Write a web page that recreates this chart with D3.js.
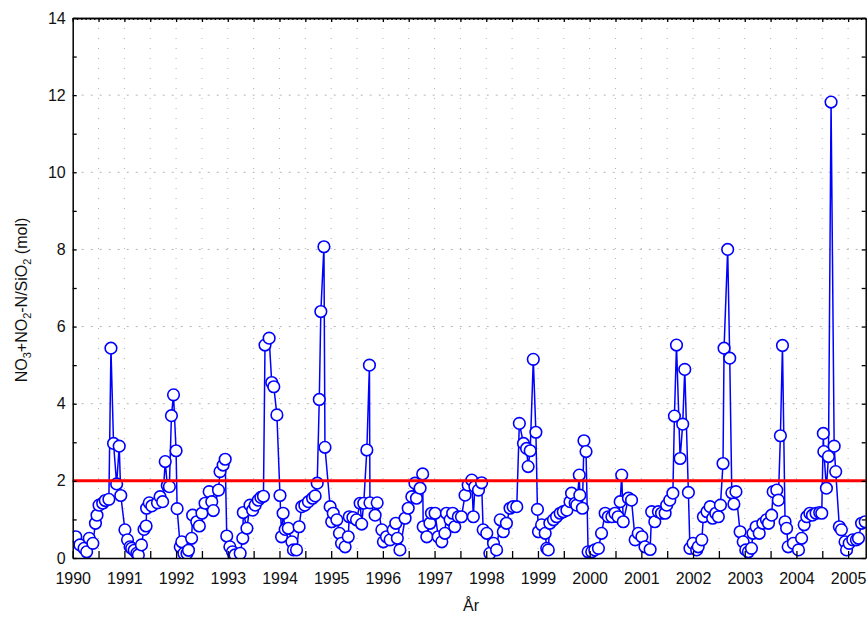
<!DOCTYPE html>
<html>
<head>
<meta charset="utf-8">
<script src="https://cdn.jsdelivr.net/npm/d3@7"></script>
<style>
  body { margin: 0; background: #fff; }
  svg { display: block; font-family: "Liberation Sans", Arial, sans-serif; }
</style>
</head>
<body>
<div id="chart"></div>
<script>
const width = 867;
const height = 617;

// sample dates (decimal year) and NO3+NO2-N/SiO2 ratio
const sampleDates = [
    1990.06, 1990.14, 1990.22, 1990.27, 1990.32, 1990.39, 1990.44, 1990.47, 1990.51, 1990.58, 1990.63, 1990.70, 1990.74, 1990.79, 1990.85, 1990.90, 1990.93,
    1991.01, 1991.06, 1991.11, 1991.14, 1991.19, 1991.24, 1991.27, 1991.33, 1991.38, 1991.42, 1991.43, 1991.48, 1991.53, 1991.64, 1991.69, 1991.74, 1991.79, 1991.83, 1991.87, 1991.91, 1991.95,
    1992.00, 1992.02, 1992.08, 1992.11, 1992.15, 1992.21, 1992.24, 1992.30, 1992.32, 1992.40, 1992.45, 1992.50, 1992.56, 1992.64, 1992.69, 1992.72, 1992.82, 1992.85, 1992.91, 1992.95, 1992.98,
    1993.04, 1993.09, 1993.14, 1993.24, 1993.29, 1993.30, 1993.37, 1993.43, 1993.48, 1993.53, 1993.59, 1993.64, 1993.69, 1993.72, 1993.80, 1993.85, 1993.89, 1993.95,
    1994.01, 1994.04, 1994.07, 1994.11, 1994.17, 1994.24, 1994.27, 1994.33, 1994.38, 1994.43, 1994.49, 1994.56, 1994.64, 1994.69, 1994.73, 1994.77, 1994.80, 1994.86, 1994.88, 1994.98,
    1995.01, 1995.04, 1995.11, 1995.16, 1995.20, 1995.27, 1995.33, 1995.35, 1995.42, 1995.49, 1995.56, 1995.59, 1995.63, 1995.69, 1995.74, 1995.75, 1995.85, 1995.89, 1995.98,
    1996.01, 1996.07, 1996.14, 1996.20, 1996.25, 1996.28, 1996.33, 1996.43, 1996.49, 1996.56, 1996.62, 1996.65, 1996.72, 1996.77, 1996.78, 1996.85, 1996.91, 1996.94,
    1997.01, 1997.07, 1997.14, 1997.20, 1997.23, 1997.30, 1997.35, 1997.39, 1997.46, 1997.52, 1997.59, 1997.65, 1997.72, 1997.75, 1997.78, 1997.85, 1997.91, 1997.94,
    1998.01, 1998.07, 1998.14, 1998.20, 1998.27, 1998.33, 1998.39, 1998.46, 1998.52, 1998.59, 1998.64, 1998.72, 1998.78, 1998.81, 1998.85, 1998.91, 1998.96, 1998.99,
    1999.01, 1999.07, 1999.14, 1999.17, 1999.20, 1999.23, 1999.30, 1999.36, 1999.43, 1999.49, 1999.56, 1999.62, 1999.65, 1999.72, 1999.75, 1999.80, 1999.81, 1999.86, 1999.89, 1999.93, 1999.97,
    2000.04, 2000.10, 2000.17, 2000.23, 2000.30, 2000.36, 2000.43, 2000.49, 2000.55, 2000.59, 2000.62, 2000.65, 2000.75, 2000.81, 2000.88, 2000.94,
    2001.01, 2001.07, 2001.17, 2001.20, 2001.26, 2001.33, 2001.39, 2001.46, 2001.49, 2001.55, 2001.61, 2001.64, 2001.68, 2001.75, 2001.80, 2001.84, 2001.91, 2001.94,
    2002.00, 2002.07, 2002.10, 2002.17, 2002.20, 2002.27, 2002.33, 2002.38, 2002.44, 2002.49, 2002.53, 2002.58, 2002.60, 2002.67, 2002.71, 2002.75, 2002.79, 2002.83, 2002.91, 2002.97,
    2003.02, 2003.07, 2003.13, 2003.16, 2003.22, 2003.28, 2003.35, 2003.42, 2003.46, 2003.52, 2003.55, 2003.62, 2003.65, 2003.69, 2003.73, 2003.78, 2003.81, 2003.84, 2003.94,
    2004.04, 2004.10, 2004.15, 2004.20, 2004.26, 2004.31, 2004.38, 2004.45, 2004.49, 2004.52, 2004.53, 2004.58, 2004.62, 2004.67, 2004.73, 2004.76, 2004.83, 2004.87, 2004.94, 2004.97,
    2005.02, 2005.09, 2005.16, 2005.20, 2005.26, 2005.33
];

const ratios = [
    0.55, 0.34, 0.25, 0.16, 0.51, 0.38, 0.90, 1.11, 1.37, 1.42, 1.49, 1.52, 5.44, 2.97, 1.92, 2.90, 1.62,
    0.73, 0.47, 0.29, 0.25, 0.20, 0.12, 0.08, 0.34, 0.74, 0.83, 1.29, 1.43, 1.35, 1.43, 1.59, 1.46, 2.50, 1.88, 1.85, 3.69, 4.23,
    2.78, 1.28, 0.29, 0.42, 0.12, 0.12, 0.20, 0.51, 1.11, 0.94, 0.83, 1.16, 1.42, 1.72, 1.46, 1.23, 1.76, 2.24, 2.41, 2.56, 0.57,
    0.29, 0.16, 0.08, 0.12, 0.51, 1.18, 0.77, 1.37, 1.24, 1.37, 1.50, 1.57, 1.60, 5.52, 5.70, 4.55, 4.44, 3.71,
    1.62, 0.55, 1.16, 0.74, 0.77, 0.42, 0.21, 0.21, 0.81, 1.33, 1.37, 1.46, 1.55, 1.61, 1.94, 4.11, 6.39, 8.07, 2.87, 1.33,
    0.94, 1.16, 0.99, 0.64, 0.38, 0.29, 0.55, 1.07, 1.05, 0.99, 1.42, 0.88, 1.42, 2.80, 5.00, 1.43, 1.11, 1.43, 0.73,
    0.42, 0.55, 0.47, 0.73, 0.90, 0.51, 0.21, 1.03, 1.29, 1.59, 1.94, 1.55, 1.81, 2.18, 0.81, 0.55, 0.90, 1.16,
    1.16, 0.55, 0.42, 0.64, 1.16, 0.99, 1.16, 0.81, 1.07, 1.07, 1.63, 1.89, 2.02, 1.07, 1.85, 1.76, 1.95, 0.73,
    0.64, 0.12, 0.38, 0.21, 0.99, 0.68, 0.90, 1.29, 1.33, 1.33, 3.49, 2.97, 2.84, 2.37, 2.78, 5.15, 3.26, 1.26,
    0.68, 0.86, 0.64, 0.25, 0.21, 0.90, 0.99, 1.07, 1.16, 1.20, 1.24, 1.46, 1.68, 1.42, 1.37, 2.15, 1.63, 1.29, 3.04, 2.76, 0.16,
    0.16, 0.21, 0.25, 0.64, 1.16, 1.07, 1.07, 1.16, 1.07, 1.46, 2.15, 0.94, 1.55, 1.50, 0.47, 0.64,
    0.55, 0.29, 0.22, 1.20, 0.94, 1.20, 1.16, 1.16, 1.37, 1.50, 1.68, 3.68, 5.52, 2.58, 3.47, 4.89, 1.70, 0.25,
    0.38, 0.21, 0.29, 0.47, 1.07, 1.20, 1.33, 1.03, 1.16, 1.07, 1.37, 2.45, 5.44, 8.00, 5.18, 1.69, 1.40, 1.72, 0.68, 0.42,
    0.21, 0.16, 0.25, 0.64, 0.81, 0.64, 0.90, 0.99, 0.90, 1.11, 1.72, 1.76, 1.50, 3.17, 5.51, 0.94, 0.77, 0.29, 0.38,
    0.21, 0.51, 0.86, 1.07, 1.16, 1.11, 1.16, 1.18, 1.16, 3.23, 2.76, 1.81, 2.63, 11.82, 2.90, 2.24, 0.81, 0.73, 0.42, 0.21,
    0.38, 0.47, 0.47, 0.51, 0.90, 0.94
];

const yearLabels = d3.range(1990, 2006);
const threshold = 2;

const plot = { left: 72.7, right: 865.7, top: 18, bottom: 558 };

const x = d3.scaleLinear().domain([1990, 2005.34]).range([plot.left, plot.right]);
const y = d3.scaleLinear().domain([0, 14]).range([plot.bottom, plot.top]);

const samples = sampleDates.map((d, i) => ({ date: d, value: ratios[i] }));

const svg = d3.select("#chart")
    .append("svg")
    .attr("width", width)
    .attr("height", height);

svg.append("defs").append("clipPath")
    .attr("id", "plot-clip")
    .append("rect")
    .attr("x", plot.left)
    .attr("y", plot.top)
    .attr("width", plot.right - plot.left)
    .attr("height", plot.bottom - plot.top);

// dotted grid
const halfYears = d3.range(1990, 2005.4, 0.5);
svg.append("g")
    .selectAll("line")
    .data(halfYears.filter(d => d > 1990))
    .join("line")
    .attr("x1", d => x(d)).attr("x2", d => x(d))
    .attr("y1", plot.top).attr("y2", plot.bottom)
    .attr("stroke", "#b4b4b4")
    .attr("stroke-width", 1)
    .attr("stroke-dasharray", "1,9");

svg.append("g")
    .selectAll("line")
    .data(d3.range(2, 14, 2))
    .join("line")
    .attr("x1", plot.left).attr("x2", plot.right)
    .attr("y1", d => y(d)).attr("y2", d => y(d))
    .attr("stroke", "#b4b4b4")
    .attr("stroke-width", 1)
    .attr("stroke-dasharray", "2,7");

// series
const series = svg.append("g").attr("clip-path", "url(#plot-clip)");

series.append("path")
    .datum(samples)
    .attr("fill", "none")
    .attr("stroke", "#0000ff")
    .attr("stroke-width", 1.5)
    .attr("d", d3.line().x(d => x(d.date)).y(d => y(d.value)));

series.selectAll("circle")
    .data(samples)
    .join("circle")
    .attr("cx", d => x(d.date))
    .attr("cy", d => y(d.value))
    .attr("r", 5.8)
    .attr("fill", "#fff")
    .attr("stroke", "#0000ff")
    .attr("stroke-width", 1.6);

// reference level
svg.append("line")
    .attr("x1", plot.left).attr("x2", plot.right)
    .attr("y1", y(threshold)).attr("y2", y(threshold))
    .attr("stroke", "#ff0000")
    .attr("stroke-width", 3);

// axes
const styleAxis = g => {
    g.select(".domain").attr("stroke", "#000").attr("stroke-width", 1.5);
    g.selectAll(".tick line").attr("stroke", "#000").attr("stroke-width", 1.3);
    g.selectAll("text").attr("font-size", 16).attr("fill", "#111")
        .attr("font-family", "'Liberation Sans', Arial, sans-serif");
};

svg.append("g")
    .attr("transform", `translate(0,${plot.bottom})`)
    .call(d3.axisBottom(x)
        .tickValues(halfYears)
        .tickSizeInner(-7)
        .tickSizeOuter(0)
        .tickPadding(15)
        .tickFormat(d => yearLabels.includes(d) ? d : ""))
    .call(styleAxis);

const months = d3.range(0, 185).map(m => 1990 + m / 12).filter(d => d <= 2005.34);
svg.append("g")
    .attr("transform", `translate(0,${plot.top})`)
    .call(d3.axisTop(x).tickValues(months).tickSizeInner(-2).tickSizeOuter(0).tickFormat(""))
    .call(styleAxis);
svg.append("g")
    .attr("transform", `translate(0,${plot.top})`)
    .call(d3.axisTop(x).tickValues(halfYears).tickSizeInner(-4).tickSizeOuter(0).tickFormat(""))
    .call(styleAxis);

svg.append("g")
    .attr("transform", `translate(${plot.left},0)`)
    .call(d3.axisLeft(y)
        .tickValues(d3.range(0, 15))
        .tickSizeInner(-4)
        .tickSizeOuter(0)
        .tickPadding(7)
        .tickFormat(d => d % 2 === 0 ? d : ""))
    .call(styleAxis);

svg.append("g")
    .attr("transform", `translate(${plot.right},0)`)
    .call(d3.axisRight(y).tickValues(d3.range(0, 15)).tickSizeInner(-4).tickSizeOuter(0).tickFormat(""))
    .call(styleAxis);

// axis titles
svg.append("text")
    .attr("x", 471)
    .attr("y", 611)
    .attr("text-anchor", "middle")
    .attr("font-size", 16)
    .attr("fill", "#111")
    .text("År");

const yTitle = svg.append("text")
    .attr("transform", "translate(27,300) rotate(-90)")
    .attr("text-anchor", "middle")
    .attr("font-size", 16)
    .attr("fill", "#111");

[["NO", false], ["3", true], ["+NO", false], ["2", true], ["-N/SiO", false], ["2", true], [" (mol)", false]]
    .forEach(([t, sub]) => {
        const span = yTitle.append("tspan").text(t);
        if (sub) span.attr("font-size", 11).attr("dy", 4);
        else span.attr("dy", 0);
    });
// reset baseline after subscripts
yTitle.selectAll("tspan").each(function (d, i, nodes) {
    const prevSub = i > 0 && nodes[i - 1].getAttribute("font-size") === "11";
    const isSub = this.getAttribute("font-size") === "11";
    if (!isSub && prevSub) d3.select(this).attr("dy", -4);
});
</script>
</body>
</html>
